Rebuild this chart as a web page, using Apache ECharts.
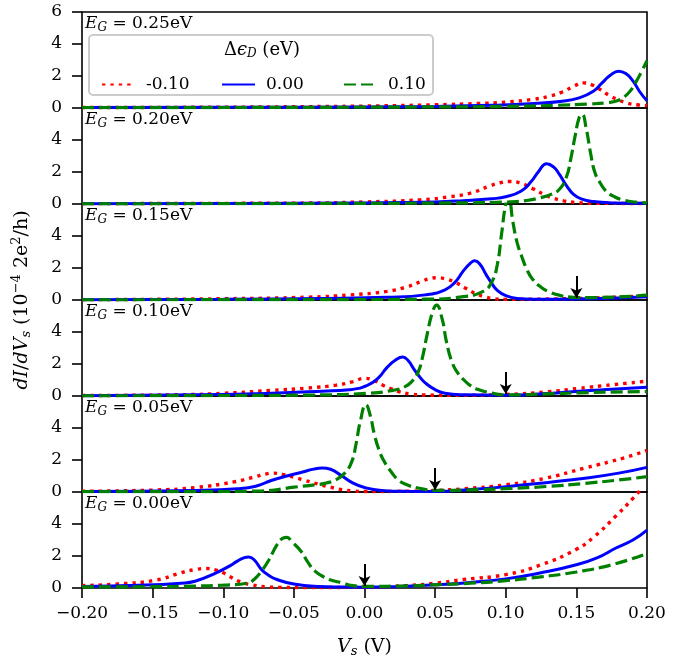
<!DOCTYPE html>
<html><head><meta charset="utf-8">
<script src="https://cdn.jsdelivr.net/npm/echarts@6/dist/echarts.min.js"></script>
<style>html,body{margin:0;padding:0;background:#fff}#c{width:689px;height:660px}</style>
</head><body><div id="c"></div>
<script>
// ---- data ----
const gapLabels = ['0.25', '0.20', '0.15', '0.10', '0.05', '0.00'];
const seriesNames = ['-0.10', '0.00', '0.10'];
const arrowX = [null, null, 0.15, 0.10, 0.05, 0.00];
const arrowTop = 1.5, arrowTip = 0.12;

// E_G = 0.25 eV
const red025 = [[-0.2,0.03],[-0.1,0.05],[-0.05,0.08],[0,0.12],[0.05,0.2],[0.08,0.28],[0.1,0.37],[0.12,0.55],[0.13,0.72],[0.14,1.0],[0.148,1.35],[0.155,1.57],[0.161,1.45],[0.167,1.15],[0.173,0.8],[0.18,0.5],[0.186,0.3],[0.193,0.2],[0.2,0.15]];
const blue025 = [[-0.2,0.03],[-0.1,0.04],[0,0.07],[0.05,0.1],[0.09,0.17],[0.12,0.28],[0.14,0.42],[0.152,0.63],[0.162,1.05],[0.168,1.55],[0.174,2.05],[0.18,2.3],[0.185,2.15],[0.19,1.7],[0.195,1.0],[0.2,0.45]];
const green025 = [[-0.2,0.02],[-0.1,0.03],[0,0.05],[0.05,0.07],[0.1,0.1],[0.136,0.17],[0.159,0.25],[0.172,0.33],[0.179,0.45],[0.184,0.7],[0.188,1.05],[0.192,1.6],[0.196,2.25],[0.2,2.95]];
// E_G = 0.20 eV
const red020 = [[-0.2,0.02],[-0.1,0.04],[-0.04,0.06],[0,0.13],[0.04,0.26],[0.06,0.45],[0.075,0.68],[0.088,1.1],[0.096,1.33],[0.103,1.41],[0.11,1.32],[0.119,0.96],[0.127,0.6],[0.133,0.38],[0.141,0.2],[0.149,0.1],[0.16,0.05],[0.2,0.03]];
const blue020 = [[-0.2,0.02],[-0.1,0.03],[0,0.07],[0.05,0.13],[0.07,0.21],[0.09,0.33],[0.1,0.45],[0.111,0.81],[0.118,1.4],[0.123,2.0],[0.129,2.52],[0.134,2.3],[0.138,1.85],[0.143,1.15],[0.148,0.6],[0.154,0.3],[0.162,0.15],[0.175,0.07],[0.2,0.04]];
const green020 = [[-0.2,0.01],[-0.1,0.02],[0,0.04],[0.05,0.06],[0.1,0.12],[0.115,0.22],[0.124,0.38],[0.132,0.6],[0.138,0.92],[0.143,1.7],[0.146,2.8],[0.149,4.2],[0.152,5.4],[0.154,5.6],[0.157,4.7],[0.16,3.2],[0.163,2.0],[0.167,1.3],[0.171,0.81],[0.177,0.45],[0.184,0.23],[0.192,0.12],[0.2,0.07]];
// E_G = 0.15 eV
const red015 = [[-0.2,0.02],[-0.1,0.08],[-0.04,0.18],[-0.01,0.32],[0.016,0.54],[0.03,0.82],[0.04,1.15],[0.046,1.33],[0.051,1.39],[0.058,1.3],[0.065,1.07],[0.072,0.72],[0.078,0.43],[0.085,0.2],[0.092,0.08],[0.1,0.04],[0.13,0.06],[0.16,0.12],[0.2,0.26]];
const blue015 = [[-0.2,0.02],[-0.1,0.05],[-0.03,0.1],[0.016,0.17],[0.043,0.32],[0.057,0.64],[0.064,1.1],[0.07,1.82],[0.075,2.3],[0.078,2.46],[0.082,2.2],[0.086,1.6],[0.09,1.05],[0.094,0.6],[0.1,0.27],[0.108,0.1],[0.12,0.05],[0.15,0.06],[0.2,0.2]];
const green015 = [[-0.2,0.01],[-0.1,0.02],[0,0.03],[0.043,0.05],[0.07,0.21],[0.084,0.54],[0.09,1.1],[0.094,2.2],[0.097,4.1],[0.1,6.0],[0.102,6.4],[0.105,4.9],[0.108,3.6],[0.111,2.8],[0.115,1.9],[0.119,1.3],[0.125,0.8],[0.13,0.54],[0.138,0.3],[0.146,0.18],[0.16,0.15],[0.2,0.3]];
// E_G = 0.10 eV
const red010 = [[-0.2,0.03],[-0.13,0.08],[-0.1,0.17],[-0.066,0.35],[-0.04,0.5],[-0.02,0.68],[-0.008,0.9],[0.0,1.1],[0.006,1.0],[0.013,0.67],[0.019,0.45],[0.024,0.28],[0.033,0.12],[0.043,0.06],[0.06,0.04],[0.1,0.1],[0.13,0.27],[0.152,0.48],[0.175,0.7],[0.2,0.93]];
const blue010 = [[-0.2,0.02],[-0.1,0.1],[-0.066,0.17],[-0.03,0.3],[-0.011,0.39],[0.002,0.67],[0.01,1.15],[0.016,1.79],[0.022,2.25],[0.027,2.44],[0.031,2.2],[0.035,1.68],[0.039,1.2],[0.043,0.82],[0.05,0.4],[0.057,0.17],[0.07,0.08],[0.1,0.05],[0.13,0.15],[0.152,0.3],[0.175,0.42],[0.2,0.54]];
const green010 = [[-0.2,0.01],[-0.1,0.03],[-0.038,0.06],[0.002,0.17],[0.02,0.35],[0.029,0.6],[0.034,0.95],[0.038,1.5],[0.041,2.4],[0.044,3.7],[0.048,5.2],[0.051,5.68],[0.055,4.8],[0.058,3.4],[0.062,2.1],[0.066,1.45],[0.07,1.04],[0.075,0.65],[0.081,0.39],[0.09,0.18],[0.1,0.07],[0.13,0.13],[0.152,0.2],[0.2,0.28]];
// E_G = 0.05 eV
const red005 = [[-0.2,0.05],[-0.15,0.12],[-0.12,0.28],[-0.092,0.64],[-0.077,0.96],[-0.07,1.12],[-0.065,1.18],[-0.058,1.1],[-0.05,0.92],[-0.042,0.72],[-0.033,0.5],[-0.024,0.3],[-0.016,0.15],[-0.008,0.07],[0,0.03],[0.03,0.05],[0.05,0.1],[0.07,0.2],[0.1,0.45],[0.128,0.86],[0.156,1.5],[0.184,2.14],[0.2,2.6]];
const blue005 = [[-0.2,0.03],[-0.12,0.1],[-0.09,0.2],[-0.077,0.36],[-0.066,0.72],[-0.055,1.0],[-0.045,1.22],[-0.036,1.43],[-0.03,1.5],[-0.024,1.42],[-0.016,1.0],[-0.008,0.55],[0,0.28],[0.012,0.1],[0.03,0.04],[0.05,0.03],[0.075,0.15],[0.1,0.33],[0.13,0.6],[0.156,0.86],[0.18,1.18],[0.2,1.54]];
const green005 = [[-0.2,0.02],[-0.1,0.03],[-0.072,0.07],[-0.05,0.3],[-0.035,0.45],[-0.028,0.54],[-0.02,0.78],[-0.014,1.18],[-0.009,1.9],[-0.006,3.0],[-0.003,4.4],[0.001,5.46],[0.004,4.8],[0.007,3.6],[0.01,2.7],[0.014,1.9],[0.019,1.25],[0.024,0.75],[0.03,0.45],[0.038,0.25],[0.05,0.1],[0.075,0.13],[0.1,0.21],[0.13,0.35],[0.156,0.54],[0.18,0.75],[0.2,0.96]];
// E_G = 0.00 eV
const red000 = [[-0.2,0.15],[-0.175,0.25],[-0.147,0.5],[-0.13,0.95],[-0.12,1.15],[-0.112,1.22],[-0.105,1.12],[-0.1,0.95],[-0.095,0.7],[-0.09,0.46],[-0.085,0.3],[-0.08,0.2],[-0.07,0.08],[-0.06,0.04],[-0.04,0.03],[0,0.05],[0.03,0.15],[0.05,0.3],[0.07,0.53],[0.1,0.84],[0.125,1.45],[0.15,2.42],[0.162,3.16],[0.178,4.5],[0.19,5.6],[0.2,6.6]];
const blue000 = [[-0.2,0.1],[-0.16,0.17],[-0.13,0.3],[-0.12,0.42],[-0.105,0.95],[-0.095,1.4],[-0.09,1.68],[-0.085,1.9],[-0.082,1.94],[-0.078,1.75],[-0.073,1.16],[-0.068,0.8],[-0.062,0.53],[-0.05,0.25],[-0.033,0.1],[-0.015,0.06],[0,0.05],[0.025,0.1],[0.05,0.2],[0.075,0.35],[0.1,0.57],[0.125,0.95],[0.15,1.45],[0.165,1.9],[0.178,2.5],[0.19,3.0],[0.2,3.62]];
const green000 = [[-0.2,0.07],[-0.15,0.08],[-0.12,0.12],[-0.1,0.18],[-0.083,0.3],[-0.078,0.55],[-0.073,1.05],[-0.068,1.7],[-0.062,2.7],[-0.058,3.1],[-0.055,3.16],[-0.051,2.85],[-0.045,2.3],[-0.04,1.6],[-0.035,1.05],[-0.03,0.75],[-0.025,0.53],[-0.015,0.3],[-0.01,0.17],[0,0.1],[0.025,0.12],[0.05,0.2],[0.075,0.3],[0.1,0.46],[0.125,0.7],[0.15,1.0],[0.175,1.45],[0.2,2.15]];

const panels = [
  [red025, blue025, green025],
  [red020, blue020, green020],
  [red015, blue015, green015],
  [red010, blue010, green010],
  [red005, blue005, green005],
  [red000, blue000, green000]
];

// ---- layout / style ----
const FONT = 'DejaVu Serif';
const L = 82, W = 565, TOP = 12, PH = 96;
const colors = ['#ff0000', '#0000ff', '#008000'];
const dashes = [[3.4, 5], 'solid', [12, 5]];
const widths = [3.4, 3, 3.2];

const grids = [], xAxes = [], yAxes = [], series = [], graphics = [];
const minus = v => (v < -1e-9 ? '\u2212' : '') + Math.abs(v).toFixed(2);

panels.forEach((pd, i) => {
  const last = i === panels.length - 1;
  grids.push({left: L, width: W, top: TOP + i * PH, height: PH, show: true,
    borderColor: '#000', borderWidth: 1.6, backgroundColor: 'transparent', containLabel: false});
  xAxes.push({type: 'value', gridIndex: i, min: -0.2, max: 0.2, interval: 0.05,
    axisLine: {show: false, onZero: false}, splitLine: {show: false},
    axisTick: {show: last, length: 10, inside: false, lineStyle: {color: '#000', width: 1.6}},
    axisLabel: {show: last, margin: 17, color: '#000', fontFamily: FONT, fontSize: 17, formatter: minus},
    name: last ? '{i|V}{s|s}{n| (V)}' : '', nameLocation: 'middle', nameGap: 48,
    nameTextStyle: {rich: {
      i: {fontFamily: FONT, fontStyle: 'italic', fontSize: 19, color: '#000'},
      s: {fontFamily: FONT, fontStyle: 'italic', fontSize: 13, color: '#000', padding: [9, 0, 0, 0]},
      n: {fontFamily: FONT, fontSize: 19, color: '#000'}}}
  });
  yAxes.push({type: 'value', gridIndex: i, min: 0, max: 6, interval: 2,
    axisLine: {show: false, onZero: false}, splitLine: {show: false},
    axisTick: {show: true, length: 10, inside: false, lineStyle: {color: '#000', width: 1.6}},
    axisLabel: {margin: 20, color: '#000', fontFamily: FONT, fontSize: 17, showMaxLabel: i === 0}
  });
  pd.forEach((d, k) => {
    const s = {name: seriesNames[k], type: 'line', xAxisIndex: i, yAxisIndex: i, data: d,
      symbol: 'none', showSymbol: false, smooth: 0.5, clip: true,
      lineStyle: {color: colors[k], width: widths[k], type: dashes[k], cap: 'butt'},
      itemStyle: {color: colors[k]}, z: 2 + k};
    if (k === 2 && arrowX[i] !== null) {
      s.markLine = {silent: true, symbol: ['none', 'arrow'], symbolSize: [9, 10], animation: false,
        lineStyle: {color: '#000', width: 2, type: 'solid'}, label: {show: false},
        data: [[{coord: [arrowX[i], arrowTop]}, {coord: [arrowX[i], arrowTip]}]]};
    }
    series.push(s);
  });
  graphics.push({type: 'text', left: L + 3, top: TOP + i * PH + 3, z: 20,
    style: {text: '{i|E}{s|G}{n| = ' + gapLabels[i] + 'eV}', rich: {
      i: {fontFamily: FONT, fontStyle: 'italic', fontSize: 17, fill: '#000'},
      s: {fontFamily: FONT, fontStyle: 'italic', fontSize: 12, fill: '#000', padding: [8, 0, 0, 0]},
      n: {fontFamily: FONT, fontSize: 17, fill: '#000'}}}});
});

// legend box + title
graphics.push({type: 'rect', z: 3, shape: {x: 89, y: 35, width: 344, height: 60, r: 4},
  style: {fill: 'rgba(255,255,255,0.85)', stroke: '#cccccc', lineWidth: 2}});
graphics.push({type: 'text', z: 6, x: 262, y: 50,
  style: {text: '{n|\u0394}{i|\u03f5}{s|D}{n| (eV)}', align: 'center', verticalAlign: 'middle', rich: {
    i: {fontFamily: FONT, fontStyle: 'italic', fontSize: 18, fill: '#000'},
    s: {fontFamily: FONT, fontStyle: 'italic', fontSize: 12, fill: '#000', padding: [8, 0, 0, 0]},
    n: {fontFamily: FONT, fontSize: 18, fill: '#000'}}}});
// y axis title
graphics.push({type: 'text', z: 6, x: 22, y: 300, rotation: Math.PI / 2,
  style: {text: '{i|dI}{n|/}{i|dV}{s|s}{n| (10}{p|\u22124}{n| 2e}{p|2}{n|/h)}', align: 'center', verticalAlign: 'middle', rich: {
    i: {fontFamily: FONT, fontStyle: 'italic', fontSize: 19, fill: '#000'},
    s: {fontFamily: FONT, fontStyle: 'italic', fontSize: 13, fill: '#000', padding: [9, 0, 0, 0]},
    p: {fontFamily: FONT, fontSize: 13, fill: '#000', padding: [0, 0, 10, 0]},
    n: {fontFamily: FONT, fontSize: 19, fill: '#000'}}}});

const legendLefts = [96, 216, 338];
const legends = seriesNames.map((n, k) => ({
  data: [n], left: legendLefts[k], top: 71, itemWidth: 33, itemHeight: 14, z: 8,
  selectedMode: false,
  itemStyle: {opacity: 0, borderWidth: 0},
  textStyle: {fontFamily: FONT, fontSize: 17, color: '#000', padding: [0, 0, 0, 6]}
}));

const chart = echarts.init(document.getElementById('c'), null, {renderer: 'canvas'});
chart.setOption({
  animation: false,
  backgroundColor: '#fff',
  grid: grids, xAxis: xAxes, yAxis: yAxes, series: series,
  legend: legends, graphic: graphics
});
</script></body></html>
